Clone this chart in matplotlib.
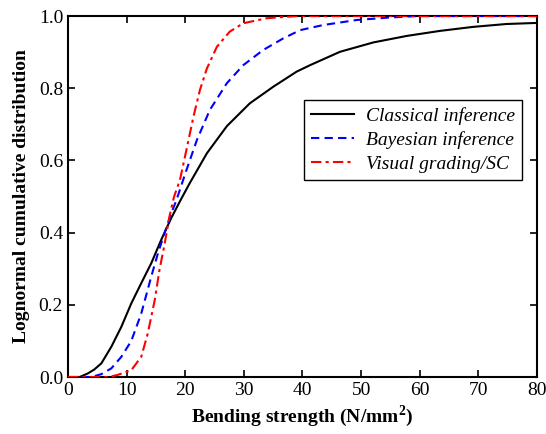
import matplotlib
matplotlib.use('Agg')
import matplotlib.pyplot as plt

plt.rcParams['font.family'] = ['Liberation Serif', 'DejaVu Serif']
plt.rcParams['mathtext.fontset'] = 'custom'
plt.rcParams['mathtext.rm'] = 'Liberation Serif'
plt.rcParams['mathtext.bf'] = 'Liberation Serif:bold'

# values
x_classical = [0, 2.0, 3.4, 4.5, 5.7, 7.4, 9.1, 10.8, 12.5, 14.2, 15.9, 17.6, 19.3, 20.8, 23.7,
               27.1, 31, 35, 39, 41.3, 46.4, 52.1, 57.8, 63.5, 69.1, 74.8, 80]
y_classical = [0, 0, 0.010, 0.021, 0.038, 0.084, 0.139, 0.204, 0.26, 0.315, 0.38, 0.44, 0.493, 0.538, 0.62,
               0.695, 0.758, 0.804, 0.846, 0.864, 0.901, 0.927, 0.945, 0.959, 0.970, 0.978, 0.981]

x_bayes = [0, 4.0, 5.7, 7.4, 9.1, 10.8, 12.5, 14.2, 15.35, 16.5, 17.6, 18.5, 20.2, 22,
           24.2, 27.1, 29.9, 33.3, 36.7, 39.6, 43.5, 49.2, 54.9, 59.5, 80]
y_bayes = [0, 0, 0.008, 0.024, 0.056, 0.10, 0.176, 0.278, 0.343, 0.40, 0.453, 0.49, 0.573, 0.657,
           0.74, 0.814, 0.864, 0.906, 0.938, 0.961, 0.975, 0.989, 0.996, 1.0, 1.0]

x_visual = [0, 7.0, 8.5, 10.8, 12.5, 13.6, 14.8, 15.6, 16.5, 17.3, 18.1, 19.1, 20.2, 21.4,
            22.5, 23.7, 25.4, 27.6, 29.9, 33.9, 39, 80]
y_visual = [0, 0, 0.006, 0.019, 0.056, 0.12, 0.213, 0.296, 0.37, 0.444, 0.50, 0.546, 0.629, 0.721,
            0.795, 0.855, 0.915, 0.957, 0.98, 0.994, 1.0, 1.0]

labels = ['Classical inference', 'Bayesian inference', 'Visual grading/SC']

fig = plt.figure(figsize=(5.46, 4.34), dpi=100)
ax = fig.add_axes([0.1245, 0.1313, 0.859, 0.8317])

ax.plot(x_classical, y_classical, color='black', lw=1.5, zorder=3, label=labels[0])
ax.plot(x_bayes, y_bayes, color='blue', lw=1.5, dashes=(4, 2.5), zorder=3, label=labels[1])
ax.plot(x_visual, y_visual, color='red', lw=1.5, dashes=(5, 2, 1.5, 2), zorder=3, label=labels[2])

ax.set_xlim(0, 80)
ax.set_ylim(0, 1)
ax.set_xticks(range(0, 81, 10))
ax.set_yticks([0, 0.2, 0.4, 0.6, 0.8, 1.0])
ax.set_yticklabels(['0.0', '0.2', '0.4', '0.6', '0.8', '1.0'])
ax.tick_params(direction='in', top=True, right=True, labelsize=14, length=5, width=1.2)
for s in ax.spines.values():
    s.set_linewidth(1.5)

ax.set_xlabel('Bending strength (N/mm$^\\mathbf{2}$)', fontsize=14, fontweight='bold', labelpad=3)
ax.set_ylabel('Lognormal cumulative distribution', fontsize=14, fontweight='bold', labelpad=6)

leg = ax.legend(loc='upper right', bbox_to_anchor=(0.967, 0.767), fancybox=False,
                edgecolor='black', framealpha=1, prop={'style': 'italic', 'size': 14},
                handlelength=2.2, borderpad=0.35, labelspacing=0.32, handletextpad=0.6,
                borderaxespad=0)
leg.get_frame().set_linewidth(1.0)

fig.savefig('out.png', dpi=100)
